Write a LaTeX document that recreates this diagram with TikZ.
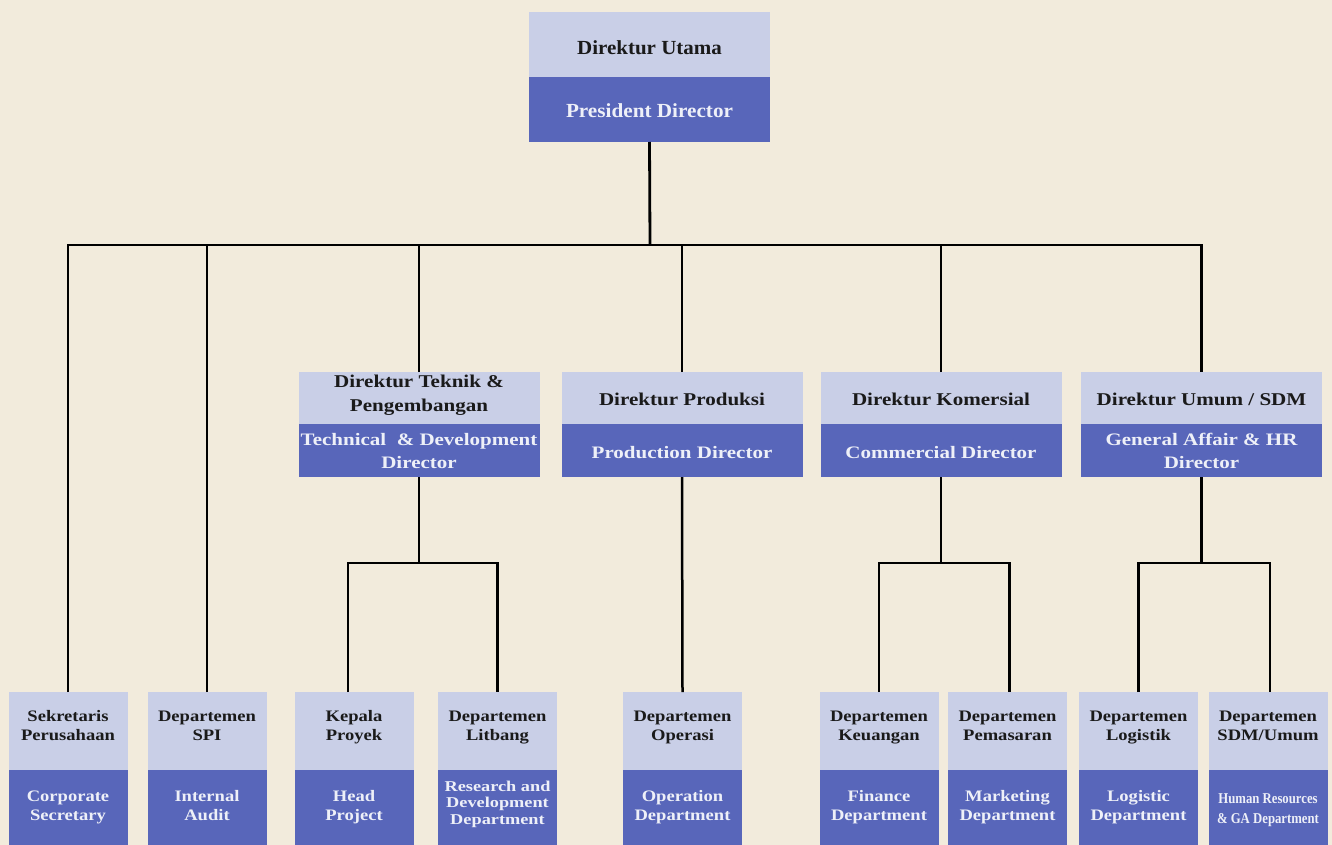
\documentclass[tikz,border=0pt]{standalone}
\usepackage{fontspec}
\setmainfont{Liberation Serif}
\usetikzlibrary{calc}
\definecolor{paper}{HTML}{F2EBDC}
\definecolor{lightbox}{HTML}{C9CFE7}
\definecolor{darkbox}{HTML}{5866BA}
\definecolor{darktext}{HTML}{EEF0F8}
\definecolor{inktext}{HTML}{1A1A1A}
\tikzset{
  part/.style={inner sep=0pt, outer sep=0pt, align=center, anchor=north},
  tb/.style 2 args={execute at begin node={\rule{0pt}{#1pt}},
                    execute at end node={\rule[-#2pt]{0pt}{#2pt}}},
  toplight/.style={part, fill=lightbox, text=inktext, minimum width=241, minimum height=65,
    font=\fontsize{20}{23}\selectfont\bfseries\addfontfeatures{FakeStretch=1.05}, tb={27}{6}},
  topdark/.style={part, fill=darkbox, text=darktext, minimum width=241, minimum height=65,
    font=\fontsize{20}{23}\selectfont\bfseries\addfontfeatures{FakeStretch=1.06}, tb={26}{9}},
  dirlight/.style={part, fill=lightbox, text=inktext, minimum width=241, minimum height=52,
    font=\fontsize{18}{24}\selectfont\bfseries\addfontfeatures{FakeStretch=1.17}, tb={20}{6}},
  dirlighttwo/.style={dirlight, tb={18}{9}},
  dirdark/.style={part, fill=darkbox, text=darktext, minimum width=241, minimum height=53,
    font=\fontsize{17.5}{23}\selectfont\bfseries\addfontfeatures{FakeStretch=1.2}, tb={24}{8}},
  dirdarktwo/.style={dirdark, tb={44}{8}},
  deplight/.style={part, fill=lightbox, text=inktext, minimum width=119, minimum height=78,
    font=\fontsize{16}{19}\selectfont\bfseries\addfontfeatures{FakeStretch=1.16}, tb={38}{19}},
  depdark/.style={part, fill=darkbox, text=darktext, minimum width=119, minimum height=76,
    font=\fontsize{16}{19}\selectfont\bfseries\addfontfeatures{FakeStretch=1.16}, tb={40}{15}},
  depdarkthree/.style={depdark,
    font=\fontsize{15}{16.5}\selectfont\bfseries\addfontfeatures{FakeStretch=1.22}, tb={48}{16}},
  depdarksmall/.style={depdark,
    font=\fontsize{15}{20}\selectfont\bfseries\addfontfeatures{FakeStretch=0.85}, tb={46}{8}},
  link/.style={draw=black, line width=2.8pt},
  sublink/.style={draw=black, line width=2.5pt}
}
\begin{document}
\begin{tikzpicture}[x=1pt, y=-1pt]
\fill[paper] (0,0) rectangle (1332,845);
\useasboundingbox (0,0) rectangle (1332,845);

% top box
\node[toplight] (pd-t) at (649.5,12) {Direktur Utama};
\node[topdark] (pd) at (pd-t.south) {President Director};

% directors
\node[dirlighttwo] (tek-t) at (419,372) {Direktur Teknik \&\\Pengembangan};
\node[dirdarktwo] (tek) at (tek-t.south) {Technical\ \ \& Development\\Director};
\node[dirlight] (pro-t) at (682,372) {Direktur Produksi};
\node[dirdark] (pro) at (pro-t.south) {Production Director};
\node[dirlight] (kom-t) at (941,372) {Direktur Komersial};
\node[dirdark] (kom) at (kom-t.south) {Commercial Director};
\node[dirlight] (umu-t) at (1201.5,372) {Direktur Umum / SDM};
\node[dirdarktwo] (umu) at (umu-t.south) {General Affair \& HR\\Director};

% departments
\node[deplight] (sek-t) at (68,692) {Sekretaris\\Perusahaan};
\node[depdark] (sek) at (sek-t.south) {Corporate\\Secretary};
\node[deplight] (spi-t) at (207,692) {Departemen\\SPI};
\node[depdark] (spi) at (spi-t.south) {Internal\\Audit};
\node[deplight] (kep-t) at (354,692) {Kepala\\Proyek};
\node[depdark] (kep) at (kep-t.south) {Head\\Project};
\node[deplight] (lit-t) at (497.5,692) {Departemen\\Litbang};
\node[depdarkthree] (lit) at (lit-t.south) {Research and\\Development\\Department};
\node[deplight] (ope-t) at (682.5,692) {Departemen\\Operasi};
\node[depdark] (ope) at (ope-t.south) {Operation\\Department};
\node[deplight] (keu-t) at (879,692) {Departemen\\Keuangan};
\node[depdark] (keu) at (keu-t.south) {Finance\\Department};
\node[deplight] (pem-t) at (1007.5,692) {Departemen\\Pemasaran};
\node[depdark] (pem) at (pem-t.south) {Marketing\\Department};
\node[deplight] (log-t) at (1138.5,692) {Departemen\\Logistik};
\node[depdark] (log) at (log-t.south) {Logistic\\Department};
\node[deplight] (sdm-t) at (1268,692) {Departemen\\SDM/Umum};
\node[depdarksmall] (sdm) at (sdm-t.south) {Human Resources\\\& GA Department};

% main bus
\coordinate (bus) at (650,245);
\draw[link] (pd.south) -- (bus);
\draw[link] (sek-t.north) -- (sek-t.north |- bus) -- (umu-t.north |- bus) -- (umu-t.north);
\draw[link] (spi-t.north) -- (spi-t.north |- bus);
\draw[link] (tek-t.north) -- (tek-t.north |- bus);
\draw[link] (pro-t.north) -- (pro-t.north |- bus);
\draw[link] (kom-t.north) -- (kom-t.north |- bus);

% sub branches
\coordinate (sub) at (0,563);
\draw[sublink] (tek.south) -- (tek.south |- sub);
\draw[sublink] ($(kep-t.north)+(-6,0)$) -- ($(kep-t.north |- sub)+(-6,0)$) -- (lit-t.north |- sub) -- (lit-t.north);
\draw[sublink] (pro.south) -- (ope-t.north);
\draw[sublink] (kom.south) -- (kom.south |- sub);
\draw[sublink] (keu-t.north) -- (keu-t.north |- sub) -- ($(pem-t.north |- sub)+(2,0)$) -- ($(pem-t.north)+(2,0)$);
\draw[sublink] (umu.south) -- (umu.south |- sub);
\draw[sublink] (log-t.north) -- (log-t.north |- sub) -- ($(sdm-t.north |- sub)+(2,0)$) -- ($(sdm-t.north)+(2,0)$);
\end{tikzpicture}
\end{document}
